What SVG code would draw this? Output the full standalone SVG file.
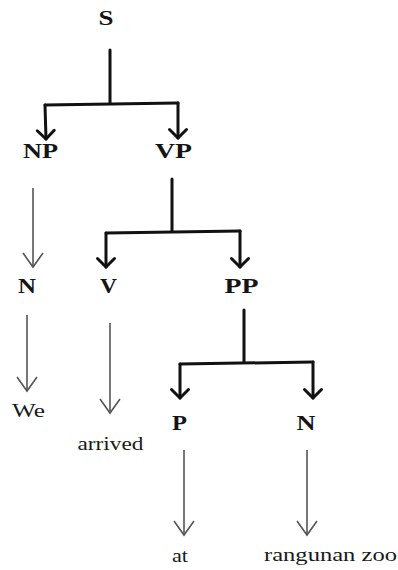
<svg xmlns="http://www.w3.org/2000/svg" width="398" height="570" viewBox="0 0 398 570">
  <style>
    .lbl { font-family: "Liberation Serif", "Times New Roman", serif; font-weight: bold; font-size: 22px; fill: #141414; text-anchor: middle; }
    .leaf { font-family: "Liberation Serif", "Times New Roman", serif; font-size: 19px; fill: #1a1a1a; text-anchor: middle; }
    .thick { fill: none; stroke: #111; stroke-width: 3; stroke-linecap: round; stroke-linejoin: round; }
    .thin { fill: none; stroke: #555; stroke-width: 1.6; }
  </style>
  <defs>
    <marker id="headThick" markerUnits="userSpaceOnUse" viewBox="-12 -12 24 24" markerWidth="24" markerHeight="24" refX="0" refY="0" orient="auto">
      <path d="M-8.5,-8.5 L0,0 L-8.5,8.5" fill="none" stroke="#111" stroke-width="3" stroke-linecap="round" stroke-linejoin="round"/>
    </marker>
    <marker id="headThin" markerUnits="userSpaceOnUse" viewBox="-16 -12 20 24" markerWidth="20" markerHeight="24" refX="0" refY="0" orient="auto">
      <path d="M-14,-10 L0,0 L-14,10" fill="none" stroke="#555" stroke-width="1.6"/>
    </marker>
  </defs>

  <g id="connectors">
    <!-- S -> NP, VP -->
    <path class="thick" d="M110,50 L110,103"/>
    <path class="thick" d="M45,105 L178,103"/>
    <path class="thick" d="M45,105 L46,139" marker-end="url(#headThick)"/>
    <path class="thick" d="M178,103 L178,138" marker-end="url(#headThick)"/>
    <!-- VP -> V, PP -->
    <path class="thick" d="M172,179 L172,231"/>
    <path class="thick" d="M106,233 L240,231"/>
    <path class="thick" d="M106,233 L106,267" marker-end="url(#headThick)"/>
    <path class="thick" d="M240,231 L240,267" marker-end="url(#headThick)"/>
    <!-- PP -> P, N -->
    <path class="thick" d="M244,310 L244,362"/>
    <path class="thick" d="M180,364 L313,362"/>
    <path class="thick" d="M180,364 L180,398" marker-end="url(#headThick)"/>
    <path class="thick" d="M313,362 L313,398" marker-end="url(#headThick)"/>
    <!-- thin arrows -->
    <path class="thin" d="M33,188 L33,267" marker-end="url(#headThin)"/>
    <path class="thin" d="M27,315 L27,391" marker-end="url(#headThin)"/>
    <path class="thin" d="M110,323 L110,413" marker-end="url(#headThin)"/>
    <path class="thin" d="M184,450 L184,535" marker-end="url(#headThin)"/>
    <path class="thin" d="M307,450 L307,535" marker-end="url(#headThin)"/>
  </g>

  <g id="node-S"><text class="lbl" x="106" y="25" textLength="15" lengthAdjust="spacingAndGlyphs">S</text></g>
  <g id="node-NP"><text class="lbl" x="40.5" y="158" textLength="35" lengthAdjust="spacingAndGlyphs">NP</text></g>
  <g id="node-VP"><text class="lbl" x="173.5" y="158" textLength="37" lengthAdjust="spacingAndGlyphs">VP</text></g>
  <g id="node-N1"><text class="lbl" x="27" y="293" textLength="18" lengthAdjust="spacingAndGlyphs">N</text></g>
  <g id="node-V"><text class="lbl" x="108.5" y="293" textLength="17" lengthAdjust="spacingAndGlyphs">V</text></g>
  <g id="node-PP"><text class="lbl" x="241.5" y="293" textLength="34" lengthAdjust="spacingAndGlyphs">PP</text></g>
  <g id="node-P"><text class="lbl" x="179.5" y="430" textLength="15" lengthAdjust="spacingAndGlyphs">P</text></g>
  <g id="node-N2"><text class="lbl" x="306" y="430" textLength="19" lengthAdjust="spacingAndGlyphs">N</text></g>
  <g id="leaf-we"><text class="leaf" x="28.5" y="417" textLength="33" lengthAdjust="spacingAndGlyphs">We</text></g>
  <g id="leaf-arrived"><text class="leaf" x="110.5" y="450" textLength="66" lengthAdjust="spacingAndGlyphs">arrived</text></g>
  <g id="leaf-at"><text class="leaf" x="180" y="562" textLength="16" lengthAdjust="spacingAndGlyphs">at</text></g>
  <g id="leaf-rangunan-zoo"><text class="leaf" x="330.5" y="561" textLength="133" lengthAdjust="spacingAndGlyphs">rangunan zoo</text></g>
</svg>
